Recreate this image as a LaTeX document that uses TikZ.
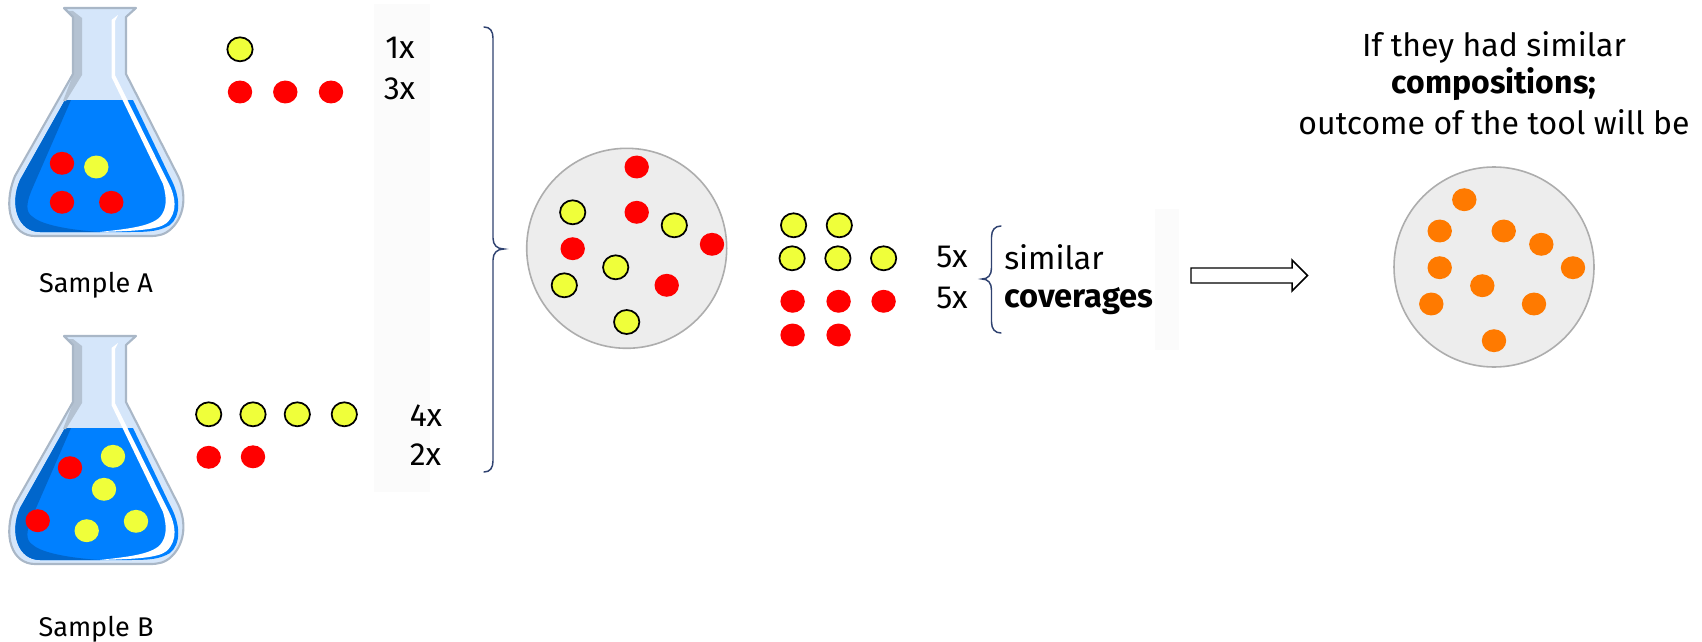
\documentclass[tikz,border=0pt]{standalone}
\usepackage{fontspec}
\setmainfont{Fira Sans}
\usetikzlibrary{shapes.geometric}
\definecolor{dotred}{HTML}{FF0000}
\definecolor{dotyellow}{HTML}{EFFF3A}
\definecolor{dotorange}{HTML}{FF7A00}
\definecolor{glassline}{HTML}{A9B7C7}
\definecolor{glassband}{HTML}{B4C2D2}
\definecolor{glassfill}{HTML}{D5E6FA}
\definecolor{liquid}{HTML}{0080FF}
\definecolor{liquiddark}{HTML}{0066CC}
\definecolor{bracecol}{HTML}{2F4270}
\definecolor{panelcol}{HTML}{FBFBFB}
\tikzset{
  dot/.style={ellipse,inner sep=0pt,minimum width=18.3pt,minimum height=17.2pt},
  reddot/.style={dot,fill=dotred},
  orangedot/.style={dot,fill=dotorange},
  yellowdot/.style={dot,fill=dotyellow},
  ringdot/.style={dot,fill=dotyellow,draw=black,line width=1.3pt,minimum width=19pt,minimum height=18pt},
  pool/.style={circle,inner sep=0pt,minimum size=150pt,fill=black!7,draw=black!32,line width=1.2pt},
  countlabel/.style={anchor=base west,inner sep=0pt,font=\fontsize{24}{28}\selectfont},
  samplelabel/.style={anchor=base,inner sep=0pt,font=\fontsize{20.3}{24}\selectfont},
  brace/.style={draw=bracecol,line width=1.1pt,line cap=round},
  flask/.pic={
    \fill[glassfill] (64,8) -- (136,8) -- (126,17) -- (126,74) -- (178,176)
      .. controls (186,192) and (186,214) .. (172,228)
      .. controls (165,235) and (158,236) .. (150,236) -- (35,236)
      .. controls (12,236) and (2,208) .. (15,176) -- (73,74) -- (73,17) -- cycle;
    \fill[liquid] (65,100) -- (133,100) -- (170,177)
      .. controls (181,197) and (181,216) .. (170,225)
      .. controls (160,231) and (150,232) .. (130,232) -- (40,232)
      .. controls (18,232) and (9,205) .. (20,180) -- cycle;
    \fill[liquiddark] (65,100) -- (71,100) -- (33,187)
      .. controls (26,203) and (25,212) .. (33,217)
      .. controls (42,225) and (70,230) .. (100,232) -- (40,232)
      .. controls (18,232) and (9,205) .. (20,180) -- cycle;
    \fill[white] (111.5,20) -- (118,15) -- (115,21) -- (115,75) -- (168,182)
      .. controls (176,197) and (178,212) .. (166.7,223)
      .. controls (158,230) and (135,231) .. (100,232)
      .. controls (125,229) and (150,227) .. (160,217)
      .. controls (167,209) and (167,198) .. (163,184) -- (111.5,77) -- cycle;
    \fill[glassband] (73,17) -- (68,11) -- (73,11) -- (82,18) -- (82,75) -- (66,101) -- (63,101) -- (73,75) -- cycle;
    \draw[glassline,line width=1.6pt,line join=round] (64,8) -- (136,8) -- (126,17) -- (126,74) -- (178,176)
      .. controls (186,192) and (186,214) .. (172,228)
      .. controls (165,235) and (158,236) .. (150,236) -- (35,236)
      .. controls (12,236) and (2,208) .. (15,176) -- (73,74) -- (73,17) -- cycle;
  }
}
\begin{document}
\begin{tikzpicture}[x=0.75pt,y=-0.75pt]
  \useasboundingbox (0,0) rectangle (1702,642);
  \fill[panelcol] (374,4) rectangle (430,492);
  \fill[panelcol] (1155,209) rectangle (1179,350);
  \draw (0,0) pic {flask};
  \draw (0,328) pic {flask};
  \draw
    (62,163.3) node[reddot] (a1){}
    (96.3,167) node[yellowdot] (a2){}
    (62,202.3) node[reddot] (a3){}
    (111.3,202.3) node[reddot] (a4){}
    (70,467.7) node[reddot] (b1){}
    (113,456.3) node[yellowdot] (b2){}
    (104,489.3) node[yellowdot] (b3){}
    (37.7,520.7) node[reddot] (b4){}
    (86.7,530.7) node[yellowdot] (b5){}
    (136,521.3) node[yellowdot] (b6){};
  \draw
    (96,292.7) node[samplelabel] (samplea){Sample A}
    (96,636) node[samplelabel] (sampleb){Sample B};
  \draw
    (240,49.3) node[ringdot] (ka1){}
    (240,92) node[reddot] (ka2){}
    (285.3,92) node[reddot] (ka3){}
    (331,92) node[reddot] (ka4){}
    (208.7,414.3) node[ringdot] (kb1){}
    (253,414.3) node[ringdot] (kb2){}
    (297.3,414.3) node[ringdot] (kb3){}
    (344.3,414.3) node[ringdot] (kb4){}
    (208.7,457.3) node[reddot] (kb5){}
    (253,456.8) node[reddot] (kb6){};
  \draw
    (385,58.3) node[countlabel] (c1){1x}
    (383.5,99.5) node[countlabel] (c3){3x}
    (409.5,426) node[countlabel] (c4){4x}
    (409.5,465) node[countlabel] (c2){2x}
    (936,267.5) node[countlabel] (c5a){5x}
    (936,308) node[countlabel] (c5b){5x}
    (1004,269) node[countlabel] (similar){similar}
    (1004,307) node[countlabel,font=\fontsize{24.5}{28}\selectfont] (coverages){\textbf{coverages}};
  \draw[brace] (484,27) .. controls (490,27) and (493,31) .. (493,38) -- (493,238)
    .. controls (493,245) and (497,249) .. (504,249)
    .. controls (497,249) and (493,253) .. (493,260) -- (493,461)
    .. controls (493,468) and (490,472) .. (484,472);
  \draw[brace] (1001,226) .. controls (995,226) and (991.5,230) .. (991.5,237) -- (991.5,268)
    .. controls (991.5,275) and (988,279) .. (982,279)
    .. controls (988,279) and (991.5,283) .. (991.5,290) -- (991.5,322)
    .. controls (991.5,329) and (995,333) .. (1001,333);
  \draw
    (626.7,248.3) node[pool] (mix){}
    (1494,267) node[pool] (result){};
  \draw
    (636.7,167) node[reddot] (m1){}
    (572.7,212.3) node[ringdot] (m2){}
    (636.7,212.3) node[reddot] (m3){}
    (674.3,225.3) node[ringdot] (m4){}
    (712,244.3) node[reddot] (m5){}
    (572.7,248.7) node[reddot] (m6){}
    (615.7,267.3) node[ringdot] (m7){}
    (564.3,285.3) node[ringdot] (m8){}
    (666.7,285.3) node[reddot] (m9){}
    (626.7,322) node[ringdot] (m10){};
  \draw
    (793.6,225.3) node[ringdot] (k1){}
    (839.3,225.3) node[ringdot] (k2){}
    (792.1,258.3) node[ringdot] (k3){}
    (837.9,258.3) node[ringdot] (k4){}
    (883.6,258.3) node[ringdot] (k5){}
    (792.6,301.3) node[reddot] (k6){}
    (838.6,301.3) node[reddot] (k7){}
    (883.6,301.3) node[reddot] (k8){}
    (792.6,335) node[reddot] (k9){}
    (838.6,335) node[reddot] (k10){};
  \draw
    (1464.3,199.7) node[orangedot] (r1){}
    (1439.7,231) node[orangedot] (r2){}
    (1503.7,231) node[orangedot] (r3){}
    (1541.3,244.3) node[orangedot] (r4){}
    (1573,267.7) node[orangedot] (r5){}
    (1439.7,267.7) node[orangedot] (r6){}
    (1482.3,285.7) node[orangedot] (r7){}
    (1431.3,304) node[orangedot] (r8){}
    (1534,304) node[orangedot] (r9){}
    (1494,340.7) node[orangedot] (r10){};
  \draw[fill=white,line width=1.1pt,miter limit=4] (1191,268) -- (1292,268) -- (1292,260) -- (1307.5,275.5)
    -- (1292,291) -- (1292,283) -- (1191,283) -- cycle;
  \draw
    (1494,56.7) node[countlabel,anchor=base] (t1){If they had similar}
    (1494,93.7) node[countlabel,anchor=base] (t2){\textbf{compositions;}}
    (1494,134.3) node[countlabel,anchor=base] (t3){outcome of the tool will be};
\end{tikzpicture}
\end{document}
